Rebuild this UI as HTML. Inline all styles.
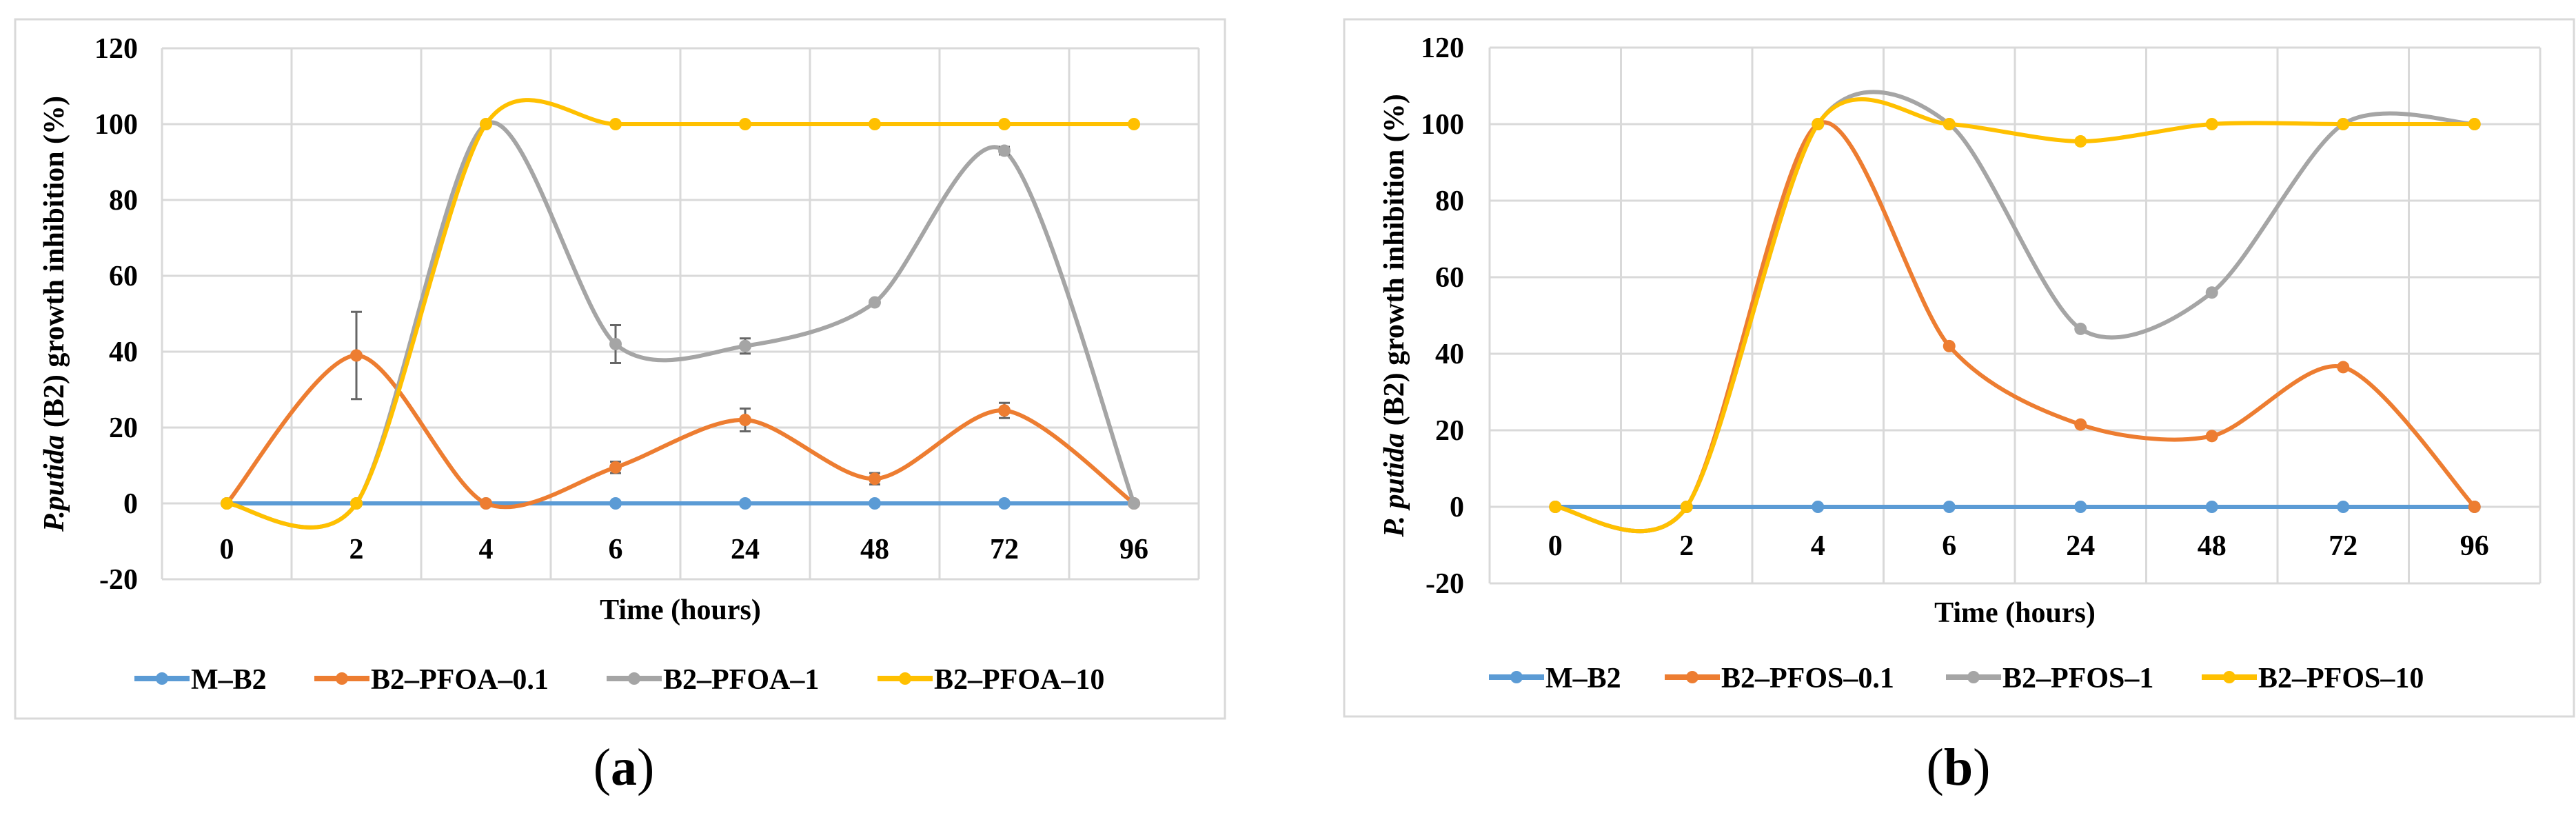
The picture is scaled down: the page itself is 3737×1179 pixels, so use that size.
<!DOCTYPE html>
<html><head><meta charset="utf-8">
<style>
html,body{margin:0;padding:0;background:#fff;}
svg{display:block;}
text{font-family:"Liberation Serif",serif;fill:#000;}
</style></head>
<body>
<svg id="fig" width="3737" height="1179" viewBox="0 0 3737 1179" xmlns="http://www.w3.org/2000/svg">
  <rect x="0" y="0" width="3737" height="1179" fill="#fff"/>
  <g id="panelA"></g>
  <g id="panelB"></g>
</svg>
<script>
const categories = ["0","2","4","6","24","48","72","96"];
const yTicks = [-20,0,20,40,60,80,100,120];
const seriesColors = ["#5B9BD5","#ED7D31","#A5A5A5","#FFC000"];
// Panel (a) PFOA
const namesA = ["M\u2013B2","B2\u2013PFOA\u20130.1","B2\u2013PFOA\u20131","B2\u2013PFOA\u201310"];
const mB2A = [0,0,0,0,0,0,0,0];
const pfoa01 = [0,39,0,9.5,22,6.5,24.5,0];
const pfoa1 = [0,0,100,42,41.5,53,93,0];
const pfoa10 = [0,0,100,100,100,100,100,100];
const errPfoa01 = [0,11.5,0,1.5,3,1.5,2,0];
const errPfoa1 = [0,0,0,5,2,0,1,0];
// Panel (b) PFOS
const namesB = ["M\u2013B2","B2\u2013PFOS\u20130.1","B2\u2013PFOS\u20131","B2\u2013PFOS\u201310"];
const mB2B = [0,0,0,0,0,0,0,0];
const pfos01 = [0,0,100,42,21.5,18.5,36.5,0];
const pfos1 = [0,0,100,100,46.5,56,100,100];
const pfos10 = [0,0,100,100,95.5,100,100,100];

const NS = "http://www.w3.org/2000/svg";
function mk(parent, tag, attrs){
  const e = document.createElementNS(NS, tag);
  for (const k in attrs) e.setAttribute(k, attrs[k]);
  parent.appendChild(e);
  return e;
}

function drawPanel(g, cfg){
  const {frame, left, right, top, bottom, series, names, errors, ytitle, xtitleY, legend, legendY, label, labelX, yTitleX, tickLabelRight, xTickY} = cfg;
  const fr = mk(g,'rect',{x:frame[0],y:frame[1],width:frame[2]-frame[0],height:frame[3]-frame[1],fill:'#fff',stroke:'#d9d9d9','stroke-width':3});
  
  
  const band = (right-left)/categories.length;
  const xs = i => left + band*(i+0.5);
  const ys = v => bottom - (v - yTicks[0])/(yTicks[yTicks.length-1]-yTicks[0])*(bottom-top);
  const grid = mk(g,'g',{});
  
  
  yTicks.forEach(t=>{
    const l = mk(grid,'line',{x1:left,x2:right,y1:ys(t),y2:ys(t),stroke:'#d9d9d9','stroke-width':3});
    
    
    const tx = mk(g,'text',{x:tickLabelRight,y:ys(t)+14,'text-anchor':'end','font-size':42,'font-weight':'bold'});
    tx.textContent = String(t);
    
    
  });
  for(let i=0;i<=categories.length;i++){
    const x = left + band*i;
    const l = mk(grid,'line',{x1:x,x2:x,y1:top,y2:bottom,stroke:'#d9d9d9','stroke-width':3});
    
    
  }
  categories.forEach((c,i)=>{
    const tx = mk(g,'text',{x:xs(i),y:xTickY,'text-anchor':'middle','font-size':42,'font-weight':'bold'});
    tx.textContent = c;
    
    
  });
  series.forEach((vals,si)=>{
    const pts = vals.map((v,i)=>[xs(i),ys(v)]);
    let d = 'M'+pts[0][0]+','+pts[0][1];
    for(let i=0;i<pts.length-1;i++){
      const p0 = pts[Math.max(i-1,0)], p1 = pts[i], p2 = pts[i+1], p3 = pts[Math.min(i+2,pts.length-1)];
      const c1 = [p1[0]+(p2[0]-p0[0])/7, p1[1]+(p2[1]-p0[1])/7];
      const c2 = [p2[0]-(p3[0]-p1[0])/7, p2[1]-(p3[1]-p1[1])/7];
      d += ' C'+c1[0]+','+c1[1]+' '+c2[0]+','+c2[1]+' '+p2[0]+','+p2[1];
    }
    const sg = mk(g,'g',{});
    
    
    const path = mk(sg,'path',{d:d,fill:'none',stroke:seriesColors[si],'stroke-width':6,'stroke-linecap':'round'});
    
    
    if (errors && errors[si]) {
      errors[si].forEach((e,i)=>{
        if(!e) return;
        const x = xs(i), y1 = ys(vals[i]+e), y2 = ys(vals[i]-e);
        const eb = mk(sg,'path',{d:`M${x},${y1}V${y2}M${x-8},${y1}H${x+8}M${x-8},${y2}H${x+8}`,stroke:'#666',fill:'none','stroke-width':3});
        
        
      });
    }
    pts.forEach(p=>{
      const m = mk(sg,'circle',{cx:p[0],cy:p[1],r:9,fill:seriesColors[si]});
      
      
    });
  });
  const yt = mk(g,'text',{x:0,y:0,transform:`translate(${yTitleX},${(top+bottom)/2}) rotate(-90)`,'text-anchor':'middle','font-size':42,'font-weight':'bold'});
  yt.innerHTML = ytitle;
  
  
  const xt = mk(g,'text',{x:(left+right)/2,y:xtitleY,'text-anchor':'middle','font-size':42,'font-weight':'bold'});
  xt.textContent = 'Time (hours)';
  
  
  legend.forEach((lx,si)=>{
    const lg = mk(g,'g',{});
    
    
    const ln = mk(lg,'line',{x1:lx,x2:lx+80,y1:legendY,y2:legendY,stroke:seriesColors[si],'stroke-width':8});
    
    
    const c = mk(lg,'circle',{cx:lx+40,cy:legendY,r:9,fill:seriesColors[si]});
    
    
    const t = mk(lg,'text',{x:lx+82,y:legendY+15,'font-size':42,'font-weight':'bold'});
    t.textContent = names[si];
    
    
  });
  const pl = mk(g,'text',{x:labelX,y:1138,'text-anchor':'middle','font-size':76});
  pl.innerHTML = label;
  
  
}

drawPanel(document.getElementById('panelA'),{
  frame:[22,28,1777,1042], left:235, right:1739, top:70, bottom:840,
  series:[mB2A,pfoa01,pfoa1,pfoa10], names:namesA,
  errors:[null,errPfoa01,errPfoa1,null],
  ytitle:'<tspan font-style="italic">P.putida</tspan> (B2) growth inhibition (%)',
  yTitleX:92, tickLabelRight:200, xTickY:810, xtitleY:898,
  legend:[195,456,880,1273], legendY:984,
  label:'(<tspan font-weight="bold">a</tspan>)', labelX:905
});
drawPanel(document.getElementById('panelB'),{
  frame:[1950,28,3734,1039], left:2161, right:3685, top:69, bottom:846,
  series:[mB2B,pfos01,pfos1,pfos10], names:namesB,
  errors:null,
  ytitle:'<tspan font-style="italic">P. putida</tspan> (B2) growth inhibition (%)',
  yTitleX:2036, tickLabelRight:2124, xTickY:805, xtitleY:902,
  legend:[2160,2415,2823,3194], legendY:982,
  label:'(<tspan font-weight="bold">b</tspan>)', labelX:2841
});
</script>
</body></html>
